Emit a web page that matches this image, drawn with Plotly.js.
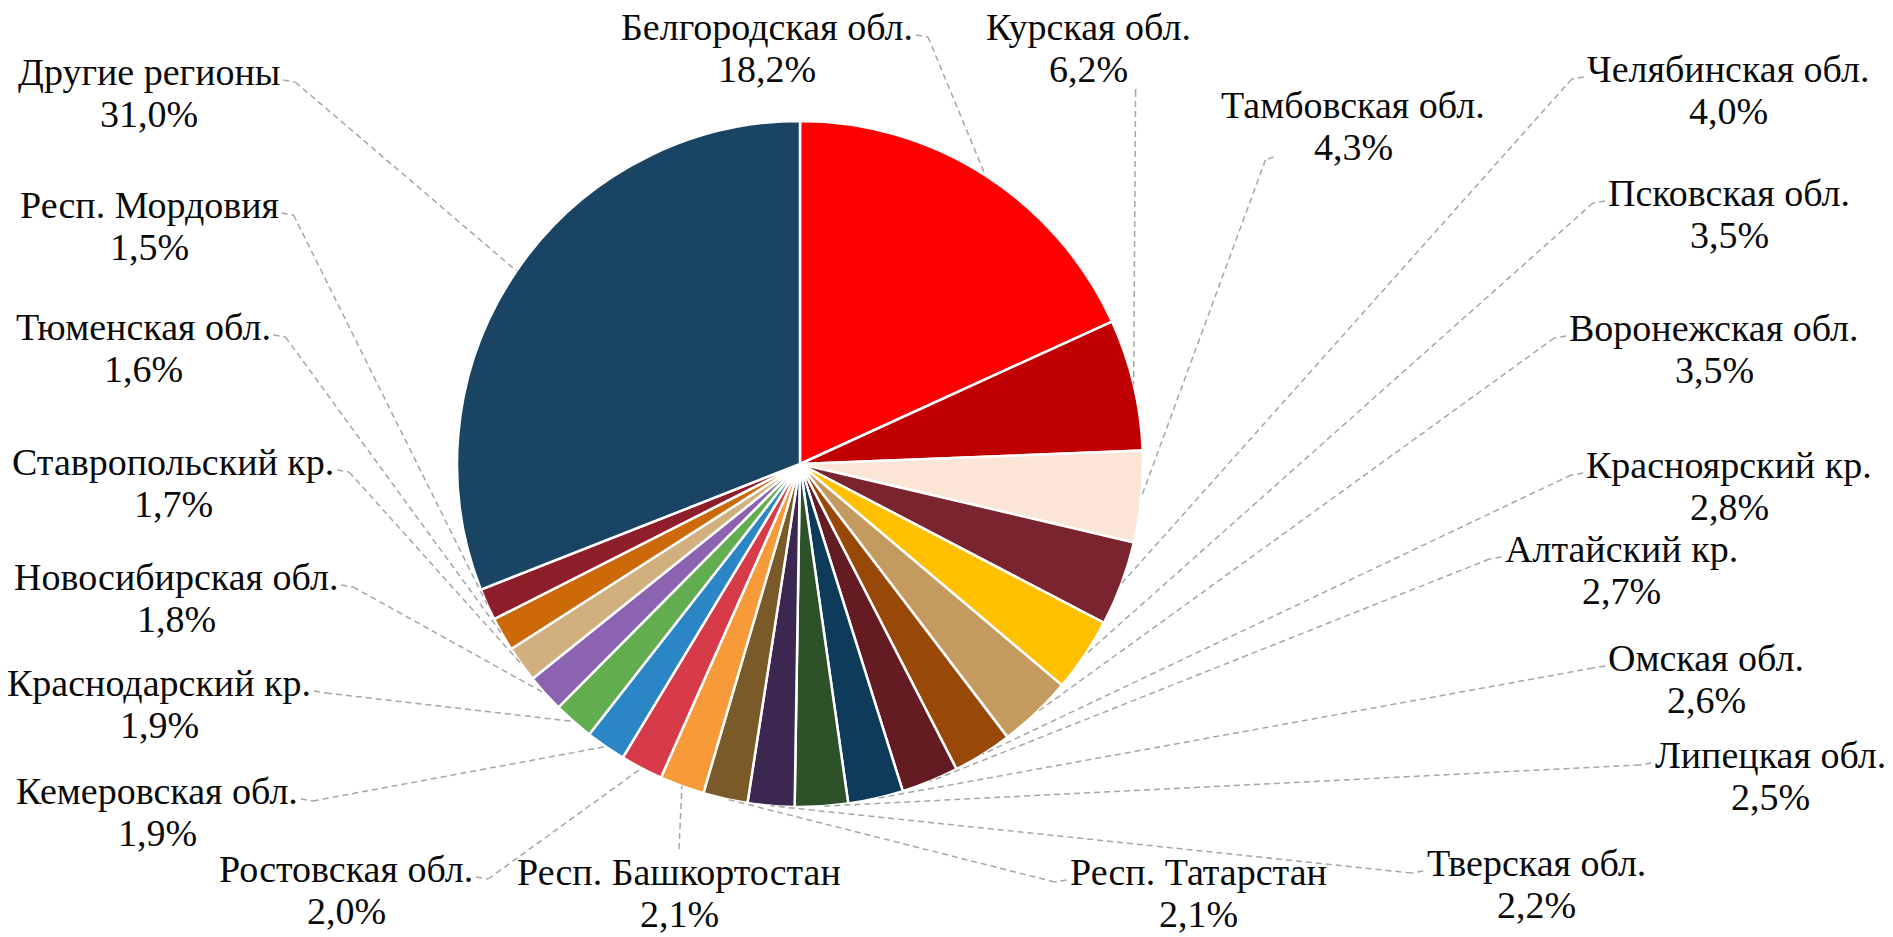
<!DOCTYPE html>
<html>
<head>
<meta charset="utf-8">
<script src="https://cdn.plot.ly/plotly-3.0.1.min.js"></script>
<style>html,body{margin:0;padding:0;background:#fff;}#chart{width:1893px;height:937px;}</style>
</head>
<body>
<div id="chart"></div>
<script>
// ---- data ----
const regions = ["Белгородская обл.", "Курская обл.", "Тамбовская обл.", "Челябинская обл.", "Псковская обл.",
  "Воронежская обл.", "Красноярский кр.", "Алтайский кр.", "Омская обл.", "Липецкая обл.", "Тверская обл.",
  "Респ. Татарстан", "Респ. Башкортостан", "Ростовская обл.", "Кемеровская обл.", "Краснодарский кр.",
  "Новосибирская обл.", "Ставропольский кр.", "Тюменская обл.", "Респ. Мордовия", "Другие регионы"];
const shares = [18.2, 6.2, 4.3, 4.0, 3.5, 3.5, 2.8, 2.7, 2.6, 2.5, 2.2, 2.1, 2.1, 2.0, 1.9, 1.9, 1.8, 1.7, 1.6, 1.5, 31.0];
const sliceColors = ["#FF0000", "#C00000", "#FBE5D6", "#7A2430", "#FFC000", "#C49A5E", "#984807", "#641B22",
  "#0F3B5A", "#2D5229", "#3B2750", "#7B5A2A", "#F79A3A", "#D73B4A", "#2B86C5", "#62AD4F", "#8C63B0",
  "#D1B07E", "#CC6A0A", "#8E1F2A", "#1A4463"];

// ---- layout (pixel positions of label centres, attachment side of leader line) ----
const W = 1893, H = 937;
const pieCx = 800, pieCy = 464, pieR = 343;
const labelX = [767, 1088, 1353, 1728, 1729, 1714, 1729, 1621, 1706, 1770, 1536, 1198, 679, 346, 157, 159, 176, 173, 143, 149, 149];
const labelY = [27, 27, 105, 69, 193, 328, 465, 549, 658, 755, 863, 872, 872, 869, 791, 683, 577, 462, 327, 205, 72];
const attach = ["R", "BR", "BL", "L", "L", "L", "L", "L", "L", "L", "L", "L", "T", "R", "R", "R", "R", "R", "R", "R", "R"];
const fontSize = 38, lineGap = 42;
const fontFamily = "Liberation Serif, Times New Roman, serif";

const ctx = document.createElement('canvas').getContext('2d');
ctx.font = fontSize + "px 'Liberation Serif', 'Times New Roman', serif";
const tw = s => ctx.measureText(s).width;

const px = x => x / W, py = y => 1 - y / H;
const total = shares.reduce((a, b) => a + b, 0);
const pctText = shares.map(v => v.toFixed(1).replace('.', ',') + '%');

const annotations = [], shapes = [];
const lineStyle = {color: '#A6A6A6', width: 1.5, dash: '6px,4px'};
function seg(x0, y0, x1, y1) {
  shapes.push({type: 'line', xref: 'paper', yref: 'paper', x0: px(x0), y0: py(y0), x1: px(x1), y1: py(y1), line: lineStyle});
}
let cum = 0;
regions.forEach((name, i) => {
  const mid = (cum + shares[i] / 2) / total * 2 * Math.PI;
  cum += shares[i];
  const ax = pieCx + pieR * Math.sin(mid), ay = pieCy - pieR * Math.cos(mid);
  const cx = labelX[i], ny = labelY[i], pyy = ny + lineGap;
  annotations.push({xref: 'paper', yref: 'paper', x: px(cx), y: py(ny), text: name, showarrow: false,
    xanchor: 'center', yanchor: 'middle', font: {family: fontFamily, size: fontSize, color: '#0a0a0a'}});
  annotations.push({xref: 'paper', yref: 'paper', x: px(cx), y: py(pyy), text: pctText[i], showarrow: false,
    xanchor: 'center', yanchor: 'middle', font: {family: fontFamily, size: fontSize, color: '#0a0a0a'}});
  const wn = tw(name), wp = tw(pctText[i]);
  let ex, ey, tx, tyy;
  switch (attach[i]) {
    case 'R': ex = cx + wn / 2 + 3; ey = ny + 8; tx = ex + 12; tyy = ey + 2; break;
    case 'L': ex = cx - wn / 2 - 3; ey = ny + 8; tx = ex - 12; tyy = ey + 2; break;
    case 'T': ex = cx; ey = ny - 23; tx = ex; tyy = ey; break;
    case 'BL': ex = cx - wp / 2 - 40; ey = pyy + 10; tx = ex - 8; tyy = ey + 3; break;
    case 'BR': ex = cx + wp / 2 + 8; ey = pyy + 20; tx = ex; tyy = ey + 2; break;
  }
  seg(ex, ey, tx, tyy);
  seg(tx, tyy, ax, ay);
});

const trace = {
  type: 'pie', labels: regions, values: shares, sort: false, direction: 'clockwise', rotation: 0,
  marker: {colors: sliceColors, line: {color: '#FFFFFF', width: 2.5}},
  textinfo: 'none', hoverinfo: 'label+percent', showlegend: false,
  domain: {x: [(pieCx - pieR) / W, (pieCx + pieR) / W], y: [1 - (pieCy + pieR) / H, 1 - (pieCy - pieR) / H]}
};

Plotly.newPlot('chart', [trace], {
  width: W, height: H, margin: {l: 0, r: 0, t: 0, b: 0},
  font: {family: fontFamily},
  paper_bgcolor: '#FFFFFF', plot_bgcolor: '#FFFFFF', showlegend: false,
  annotations: annotations, shapes: shapes
}, {displayModeBar: false, staticPlot: true});
</script>
</body>
</html>
